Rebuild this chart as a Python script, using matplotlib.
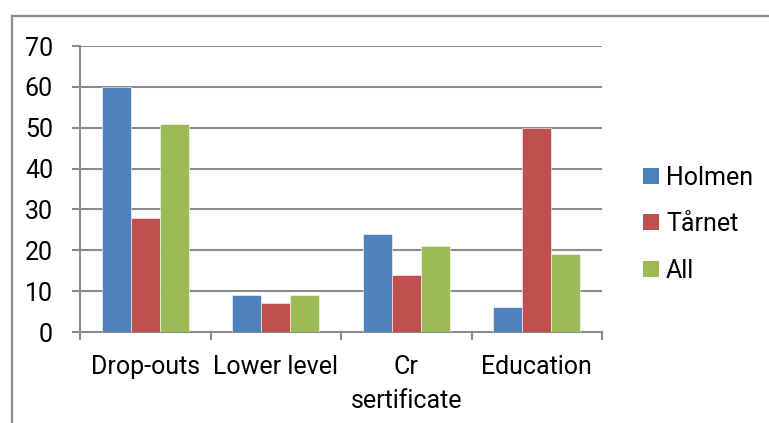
import matplotlib
matplotlib.use("Agg")
import matplotlib.pyplot as plt
from matplotlib.lines import Line2D
from matplotlib.patches import Patch
import numpy as np

categories = ["Drop-outs", "Lower level", "Cr\nsertificate", "Education"]
series_names = ["Holmen", "Tårnet", "All"]
holmen = [60, 9, 24, 6]
taarnet = [28, 7, 14, 50]
all_vals = [51, 9, 21, 19]
colors = ["#4F81BD", "#C0504D", "#9BBB59"]
y_ticks = [0, 10, 20, 30, 40, 50, 60, 70]

plt.rcParams["font.family"] = ["Roboto", "DejaVu Sans"]

W, H = 769, 423
fig = plt.figure(figsize=(W / 100, H / 100), dpi=100)
px = 0.72  # points per pixel at 100 dpi

ax = fig.add_axes([80 / W, 1 - 332 / H, (602 - 80) / W, (332 - 46) / H])

x = np.arange(len(categories))
bar_w = 1 / 4.5  # gap width 150%
for i, (vals, c) in enumerate(zip([holmen, taarnet, all_vals], colors)):
    ax.bar(x + (i - 1) * bar_w, vals, width=bar_w, color=c,
           edgecolor="white", linewidth=0.4, zorder=3)

grid_c = "#8C8C8C"
ax.set_xlim(-0.5, len(categories) - 0.5)
ax.set_ylim(0, 70)
ax.set_yticks(y_ticks)
ax.yaxis.grid(True, color=grid_c, linewidth=1.5, zorder=0)
ax.set_axisbelow(True)

for s in ["top", "right"]:
    ax.spines[s].set_visible(False)
for s in ["left", "bottom"]:
    ax.spines[s].set_color(grid_c)
    ax.spines[s].set_linewidth(1.5)

fs = 18
ax.tick_params(axis="y", length=8 * px, width=1.5, color=grid_c,
               pad=19 * px, labelsize=fs, labelcolor="black")
ax.set_xticks(x)
ax.set_xticklabels(categories, linespacing=1.5)
ax.set_xticks(np.arange(-0.5, len(categories)), minor=True)
ax.tick_params(axis="x", which="major", length=0, pad=23 * px,
               labelsize=fs, labelcolor="black")
ax.tick_params(axis="x", which="minor", length=8 * px, width=1.5, color=grid_c)

handles = [Patch(facecolor=c, edgecolor="none") for c in colors]
fig.legend(handles, series_names, loc="center left",
           bbox_to_anchor=(643 / W, 1 - 224 / H), frameon=False,
           fontsize=fs, handlelength=0.62, handleheight=0.62,
           handletextpad=0.3, labelspacing=0.9, borderpad=0,
           borderaxespad=0)

# chart area border
bc = "#8C8C8C"
fig.add_artist(Line2D([11.5 / W, 11.5 / W], [0, 1 - 16 / H],
                      transform=fig.transFigure, color=bc, linewidth=1.6))
fig.add_artist(Line2D([11.5 / W, 1], [1 - 16 / H, 1 - 16 / H],
                      transform=fig.transFigure, color=bc, linewidth=1.6))

fig.savefig("out.png", dpi=100)
